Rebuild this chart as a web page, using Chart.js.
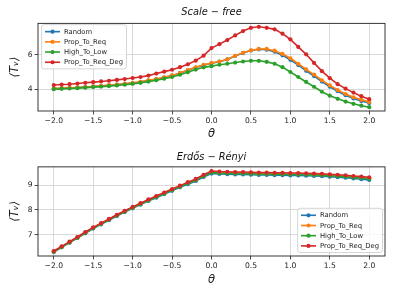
<!DOCTYPE html>
<html>
<head>
<meta charset="utf-8">
<script src="https://cdn.jsdelivr.net/npm/chart.js@4/dist/chart.umd.min.js"></script>
<style>
html, body { margin: 0; padding: 0; background: #fff; }
canvas { display: block; }
</style>
</head>
<body>
<canvas id="sfChart" width="394" height="148"></canvas>
<canvas id="erChart" width="394" height="148"></canvas>
<script>
// x values (theta) shared by every series
const theta = [-2.0, -1.9, -1.8, -1.7, -1.6, -1.5, -1.4, -1.3, -1.2, -1.1,
               -1.0, -0.9, -0.8, -0.7, -0.6, -0.5, -0.4, -0.3, -0.2, -0.1,
                0.0,  0.1,  0.2,  0.3,  0.4,  0.5,  0.6,  0.7,  0.8,  0.9,
                1.0,  1.1,  1.2,  1.3,  1.4,  1.5,  1.6,  1.7,  1.8,  1.9, 2.0];

const seriesNames = ['Random', 'Prop_To_Req', 'High_To_Low', 'Prop_To_Req_Deg'];
const seriesColors = ['#1f77b4', '#ff7f0e', '#2ca02c', '#d62728'];

// Scale-free
const sfRandom = [4.04, 4.06, 4.08, 4.10, 4.13, 4.16, 4.19, 4.23, 4.27, 4.32,
                  4.37, 4.43, 4.51, 4.59, 4.69, 4.80, 4.94, 5.11, 5.27, 5.41,
                  5.52, 5.61, 5.74, 5.94, 6.12, 6.26, 6.33, 6.31, 6.19, 5.98,
                  5.72, 5.41, 5.08, 4.77, 4.45, 4.15, 3.89, 3.66, 3.47, 3.32, 3.20];
const sfPropReq = [4.05, 4.07, 4.09, 4.11, 4.14, 4.17, 4.20, 4.24, 4.28, 4.33,
                   4.38, 4.44, 4.52, 4.60, 4.70, 4.81, 4.95, 5.12, 5.28, 5.42,
                   5.53, 5.62, 5.75, 5.95, 6.13, 6.27, 6.35, 6.35, 6.25, 6.06,
                   5.81, 5.49, 5.16, 4.86, 4.53, 4.23, 3.96, 3.73, 3.54, 3.39, 3.27];
const sfHighLow = [4.01, 4.03, 4.05, 4.07, 4.10, 4.13, 4.16, 4.19, 4.23, 4.27,
                   4.32, 4.38, 4.45, 4.53, 4.62, 4.72, 4.85, 5.00, 5.15, 5.28,
                   5.35, 5.43, 5.49, 5.56, 5.62, 5.66, 5.66, 5.60, 5.49, 5.29,
                   5.01, 4.72, 4.43, 4.15, 3.86, 3.63, 3.45, 3.29, 3.16, 3.05, 2.96];
const sfPropReqDeg = [4.25, 4.28, 4.30, 4.34, 4.38, 4.42, 4.46, 4.50, 4.55, 4.60,
                      4.66, 4.72, 4.80, 4.92, 5.03, 5.14, 5.29, 5.46, 5.67, 5.96,
                      6.40, 6.63, 6.87, 7.14, 7.39, 7.58, 7.64, 7.58, 7.49, 7.24,
                      6.91, 6.47, 6.04, 5.54, 5.06, 4.65, 4.30, 4.04, 3.81, 3.60, 3.43];

// Erdos-Renyi
const erRandom = [6.29, 6.48, 6.67, 6.86, 7.05, 7.24, 7.41, 7.58, 7.75, 7.91,
                  8.06, 8.21, 8.36, 8.49, 8.63, 8.77, 8.91, 9.04, 9.17, 9.33,
                  9.47, 9.45, 9.44, 9.43, 9.43, 9.42, 9.41, 9.41, 9.40, 9.40,
                  9.39, 9.39, 9.38, 9.37, 9.36, 9.34, 9.32, 9.30, 9.27, 9.24, 9.21];
const erPropReq = [6.31, 6.50, 6.69, 6.88, 7.08, 7.27, 7.44, 7.61, 7.78, 7.94,
                   8.09, 8.24, 8.39, 8.53, 8.67, 8.81, 8.95, 9.09, 9.22, 9.39,
                   9.53, 9.51, 9.50, 9.49, 9.49, 9.48, 9.47, 9.47, 9.46, 9.46,
                   9.45, 9.45, 9.44, 9.43, 9.42, 9.40, 9.38, 9.36, 9.33, 9.31, 9.28];
const erHighLow = [6.30, 6.49, 6.68, 6.87, 7.07, 7.26, 7.43, 7.60, 7.77, 7.93,
                   8.08, 8.23, 8.38, 8.52, 8.66, 8.80, 8.94, 9.07, 9.20, 9.37,
                   9.51, 9.49, 9.48, 9.47, 9.47, 9.46, 9.45, 9.45, 9.44, 9.44,
                   9.43, 9.43, 9.42, 9.41, 9.40, 9.38, 9.36, 9.34, 9.31, 9.29, 9.26];
const erPropReqDeg = [6.33, 6.52, 6.71, 6.90, 7.10, 7.29, 7.46, 7.63, 7.80, 7.96,
                      8.12, 8.27, 8.42, 8.56, 8.70, 8.84, 8.98, 9.12, 9.25, 9.42,
                      9.57, 9.55, 9.54, 9.53, 9.53, 9.52, 9.51, 9.51, 9.50, 9.50,
                      9.49, 9.49, 9.48, 9.47, 9.46, 9.44, 9.42, 9.40, 9.37, 9.35, 9.32];

const xTicks = [-2.0, -1.5, -1.0, -0.5, 0.0, 0.5, 1.0, 1.5, 2.0];
const sfYTicks = [4, 6];
const erYTicks = [7, 8, 9];

Chart.defaults.font.family = '"DejaVu Sans", sans-serif';
Chart.defaults.color = '#222';

// black frame around the plot area, like matplotlib spines
const framePlugin = {
    id: 'frame',
    afterDatasetsDraw(chart) {
        const a = chart.chartArea, ctx = chart.ctx;
        ctx.save();
        ctx.strokeStyle = '#222';
        ctx.lineWidth = 0.9;
        ctx.strokeRect(a.left, a.top, a.right - a.left, a.bottom - a.top);
        ctx.restore();
    }
};

// legend drawn inside the plot area in a rounded box
const boxLegend = {
    id: 'boxLegend',
    afterDraw(chart, args, opts) {
        const ctx = chart.ctx, area = chart.chartArea;
        const sets = chart.data.datasets;
        ctx.save();
        ctx.font = '6.8px "DejaVu Sans"';
        const textW = Math.max(...sets.map(d => ctx.measureText(d.label).width));
        const rowH = 10.2;
        const w = 3.4 + 15 + 4 + textW + 3.4;
        const h = 13.6 + rowH * (sets.length - 1);
        const x = opts.corner === 'topleft' ? area.left + 3.6 : area.right - 2.5 - w;
        const y = opts.corner === 'topleft' ? area.top + 1.3 : area.bottom - 3.5 - h;

        ctx.beginPath();
        ctx.roundRect(x, y, w, h, 2.5);
        ctx.fillStyle = 'rgba(255,255,255,0.8)';
        ctx.fill();
        ctx.strokeStyle = '#cccccc';
        ctx.lineWidth = 0.8;
        ctx.stroke();

        sets.forEach((d, i) => {
            const cy = y + 7 + i * rowH;
            ctx.strokeStyle = d.borderColor;
            ctx.lineWidth = 1.6;
            ctx.beginPath();
            ctx.moveTo(x + 3.4, cy);
            ctx.lineTo(x + 18.4, cy);
            ctx.stroke();
            ctx.fillStyle = d.borderColor;
            ctx.beginPath();
            ctx.arc(x + 10.9, cy, 2.1, 0, Math.PI * 2);
            ctx.fill();
            ctx.fillStyle = '#222';
            ctx.textBaseline = 'middle';
            ctx.fillText(d.label, x + 22.4, cy + 0.3);
        });
        ctx.restore();
    }
};

function fmtX(v) {
    return v.toFixed(1).replace('-', '\u2212');
}

function makeChart(id, cfg) {
    const datasets = cfg.series.map((vals, i) => ({
        label: seriesNames[i],
        data: theta.map((t, j) => ({ x: t, y: vals[j] })),
        borderColor: seriesColors[i],
        backgroundColor: seriesColors[i],
        pointBackgroundColor: seriesColors[i],
        borderWidth: 1.6,
        pointRadius: 2.1,
        pointBorderWidth: 0,
        tension: 0,
        order: cfg.series.length - i
    }));

    return new Chart(document.getElementById(id), {
        type: 'line',
        data: { datasets: datasets },
        options: {
            responsive: false,
            animation: false,
            events: [],
            layout: { padding: { left: 0, right: 9, top: 0, bottom: 0 } },
            plugins: {
                legend: { display: false },
                tooltip: { enabled: false },
                title: {
                    display: true,
                    fullSize: false,
                    text: cfg.title,
                    font: { size: 9.8, style: 'italic', weight: 'normal' },
                    color: '#111',
                    padding: cfg.titlePad
                },
                boxLegend: { corner: cfg.corner }
            },
            scales: {
                x: {
                    type: 'linear',
                    min: -2.2,
                    max: 2.2,
                    afterBuildTicks: s => { s.ticks = xTicks.map(v => ({ value: v })); },
                    afterFit: s => { s.height = cfg.xAxisH; },
                    ticks: { callback: v => fmtX(v), font: { size: 7.6 }, padding: 2, maxRotation: 0, autoSkip: false },
                    grid: { color: '#d0d0d0', lineWidth: 0.8, tickLength: 3.5, tickColor: '#222' },
                    border: { display: false },
                    title: {
                        display: true,
                        text: '\u03b8',
                        font: { size: 11.5, style: 'italic' },
                        padding: { top: 0, bottom: cfg.xTitlePad }
                    }
                },
                y: {
                    type: 'linear',
                    min: cfg.yMin,
                    max: cfg.yMax,
                    afterBuildTicks: s => { s.ticks = cfg.yTicks.map(v => ({ value: v })); },
                    afterFit: s => { s.width = 38; },
                    ticks: { callback: v => String(v), font: { size: 7.6 }, padding: 2 },
                    grid: { color: '#d0d0d0', lineWidth: 0.8, tickLength: 3.5, tickColor: '#222' },
                    border: { display: false },
                    title: {
                        display: true,
                        text: '\u27e8T\u1d65\u27e9',
                        font: { size: 11.5, style: 'italic' },
                        padding: { top: 8.5, bottom: 0 }
                    }
                }
            }
        },
        plugins: [framePlugin, boxLegend]
    });
}

makeChart('sfChart', {
    title: 'Scale \u2212 free',
    titlePad: { top: 7, bottom: 4.6 },
    series: [sfRandom, sfPropReq, sfHighLow, sfPropReqDeg],
    yMin: 2.74, yMax: 7.84, yTicks: sfYTicks,
    xAxisH: 37, xTitlePad: 6.6,
    corner: 'topleft'
});

makeChart('erChart', {
    title: 'Erd\u0151s \u2212 R\u00e9nyi',
    titlePad: { top: 4, bottom: 3.1 },
    series: [erRandom, erPropReq, erHighLow, erPropReqDeg],
    yMin: 6.13, yMax: 9.74, yTicks: erYTicks,
    xAxisH: 40, xTitlePad: 8.6,
    corner: 'bottomright'
});
</script>
</body>
</html>
